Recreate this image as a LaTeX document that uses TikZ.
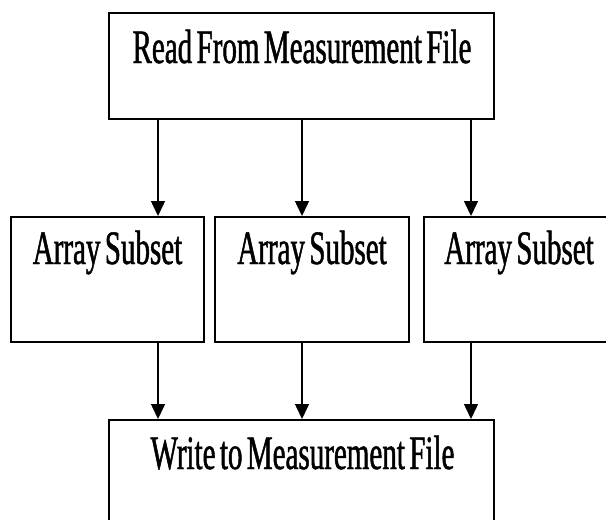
\documentclass[tikz,border=0pt]{standalone}
\usepackage{fontspec}
\usetikzlibrary{arrows.meta}
\newfontfamily\condserif[FakeStretch=0.605, FakeBold=1.0, WordSpace=0.6]{Liberation Serif}
\tikzset{
  blk/.style={draw=black, line width=2pt, fill=white, inner sep=0pt},
  lbl/.style={anchor=base, inner sep=0pt, font=\condserif\fontsize{48}{48}\selectfont},
  flow/.style={draw=black, line width=1.5pt, -{Triangle[width=14pt,length=15pt]}}
}
\begin{document}
\begin{tikzpicture}[x=1pt, y=-1pt]
  \useasboundingbox (0,0) rectangle (606,520);

  % boxes
  \node[blk, minimum width=385pt, minimum height=106pt] (rd) at (301.5,66) {};
  \node[blk, minimum width=193pt, minimum height=125pt] (s1) at (107.5,279.5) {};
  \node[blk, minimum width=194pt, minimum height=125pt] (s2) at (312,279.5) {};
  \node[blk, minimum width=194pt, minimum height=125pt] (s3) at (521,279.5) {};
  \node[blk, minimum width=385pt, minimum height=130pt] (wr) at (301.5,485) {};

  % labels
  \node[lbl] (trd) at (302,63) {Read From Measurement File};
  \node[lbl] (ts1) at (107.5,264) {Array Subset};
  \node[lbl] (ts2) at (312,264) {Array Subset};
  \node[lbl] (ts3) at (519,264) {Array Subset};
  \node[lbl] (twr) at (302.5,469) {Write to Measurement File};

  % arrow columns
  \coordinate (c1) at (158,0);
  \coordinate (c2) at (302,0);
  \coordinate (c3) at (471,0);

  % fan out
  \draw[flow] (rd.south -| c1) -- (s1.north -| c1);
  \draw[flow] (rd.south -| c2) -- (s2.north -| c2);
  \draw[flow] (rd.south -| c3) -- (s3.north -| c3);

  % fan in
  \draw[flow] (s1.south -| c1) -- (wr.north -| c1);
  \draw[flow] (s2.south -| c2) -- (wr.north -| c2);
  \draw[flow] (s3.south -| c3) -- (wr.north -| c3);
\end{tikzpicture}
\end{document}
